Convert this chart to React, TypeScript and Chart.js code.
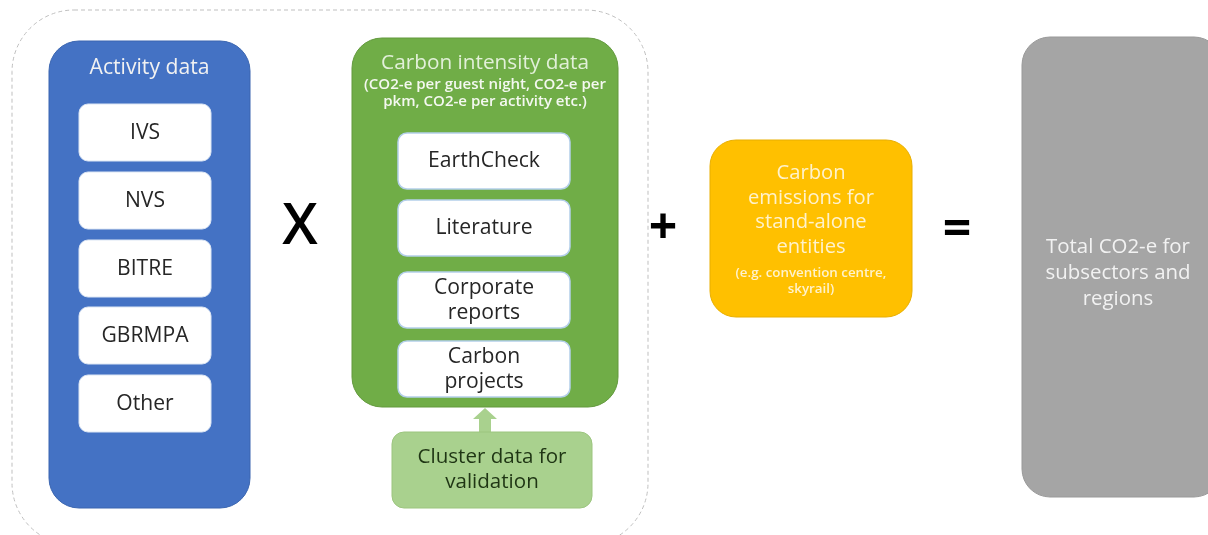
import React, { useEffect, useRef } from "react";
import { Chart, registerables } from "chart.js";
Chart.register(...registerables);

// ---- content ----
const activityTitle = "Activity data";
const activitySources = ["IVS", "NVS", "BITRE", "GBRMPA", "Other"];
const intensityTitle = "Carbon intensity data";
const intensityNote = ["(CO2-e per guest night, CO2-e per", "pkm, CO2-e per activity etc.)"];
const intensitySources = [["EarthCheck"], ["Literature"], ["Corporate", "reports"], ["Carbon", "projects"]];
const validationLabel = ["Cluster data for", "validation"];
const standaloneLabel = ["Carbon", "emissions for", "stand-alone", "entities"];
const standaloneNote = ["(e.g. convention centre,", "skyrail)"];
const totalLabel = ["Total CO2-e for", "subsectors and", "regions"];
const operators = ["X", "+", "="];

// ---- layout (diagram units) ----
const W = 1208;
const H = 535;
const outerBox = [12, 10, 648, 545];
const activityBox = [49, 41, 250, 508];
const activityItemX = [79, 211];
const activityItemTop = [104, 172, 240, 307, 375];
const activityItemH = 57;
const intensityBox = [352, 38, 618, 407];
const intensityItemX = [398, 570];
const intensityItemTop = [133, 200, 272, 341];
const intensityItemH = 56;
const clusterBox = [392, 432, 592, 508];
const arrowSpan = [485, 408, 432];
const standaloneBox = [710, 140, 912, 317];
const totalBox = [1022, 37, 1222, 497];
const operatorPos = [[300, 228], [663, 230], [957, 231]];

const FONT = "'Open Sans', Lato, sans-serif";

const diagramPlugin = {
  id: "diagram",
  beforeDatasetsDraw(chart: any) {
    const ctx: CanvasRenderingContext2D = chart.ctx;
    const sx = chart.scales.x;
    const sy = chart.scales.y;
    const X = (v: number) => sx.getPixelForValue(v);
    const Y = (v: number) => sy.getPixelForValue(v);

    const rrect = (b: number[], r: number, fill: string | null, stroke: string | null, lw = 1, dash: number[] = []) => {
      const x0 = X(b[0]), y0 = Y(b[1]), x1 = X(b[2]), y1 = Y(b[3]);
      ctx.save();
      ctx.beginPath();
      (ctx as any).roundRect(x0, y0, x1 - x0, y1 - y0, r);
      if (fill) { ctx.fillStyle = fill; ctx.fill(); }
      if (stroke) { ctx.setLineDash(dash); ctx.lineWidth = lw; ctx.strokeStyle = stroke; ctx.stroke(); }
      ctx.restore();
    };
    // font size fitted so that the sample string has the target width
    const fit = (sample: string, target: number, weight = "normal") => {
      ctx.save();
      ctx.font = `${weight} 20px ${FONT}`;
      const w = ctx.measureText(sample).width;
      ctx.restore();
      return (20 * target) / w;
    };
    const text = (lines: string[], cx: number, cy: number, size: number, color: string, weight = "normal", lh = size * 1.3) => {
      ctx.save();
      ctx.font = `${weight} ${size}px ${FONT}`;
      ctx.fillStyle = color;
      ctx.textAlign = "center";
      ctx.textBaseline = "middle";
      const start = cy - ((lines.length - 1) * lh) / 2;
      lines.forEach((l, i) => ctx.fillText(l, X(cx), Y(start + i * lh)));
      ctx.restore();
    };

    // outer dashed frame
    rrect(outerBox, 62, null, "#BFBFBF", 1, [4, 3]);

    // activity data
    rrect(activityBox, 30, "#4472C4", "#3A65B0", 1);
    text([activityTitle], (activityBox[0] + activityBox[2]) / 2, 68, fit(activityTitle, 120), "#F2F2F2");
    const itemSize = fit("GBRMPA", 87);
    activitySources.forEach((s, i) => {
      const b = [activityItemX[0], activityItemTop[i], activityItemX[1], activityItemTop[i] + activityItemH];
      rrect(b, 9, "#FFFFFF", "#DCE6F4", 1);
      text([s], (b[0] + b[2]) / 2, (b[1] + b[3]) / 2, itemSize, "#262626");
    });

    // intensity data
    rrect(intensityBox, 30, "#70AD47", "#62993D", 1);
    text([intensityTitle], (intensityBox[0] + intensityBox[2]) / 2, 63, fit(intensityTitle, 208), "#E2F0D9");
    text(intensityNote, (intensityBox[0] + intensityBox[2]) / 2, 93.5, fit(intensityNote[0], 242, "600"), "#F4F8F0", "600", 17);
    const iSize = fit("EarthCheck", 112);
    intensitySources.forEach((s, i) => {
      const b = [intensityItemX[0], intensityItemTop[i], intensityItemX[1], intensityItemTop[i] + intensityItemH];
      rrect(b, 9, "#FFFFFF", "#B4CFEA", 1.5);
      text(s, (b[0] + b[2]) / 2, (b[1] + b[3]) / 2, iSize, "#262626", "normal", 25);
    });

    // arrow
    {
      const cx = X(arrowSpan[0]), top = Y(arrowSpan[1]), bot = Y(arrowSpan[2]);
      ctx.save();
      ctx.fillStyle = "#A9D18E";
      ctx.beginPath();
      ctx.moveTo(cx, top);
      ctx.lineTo(cx + 12, top + 11);
      ctx.lineTo(cx + 6, top + 11);
      ctx.lineTo(cx + 6, bot);
      ctx.lineTo(cx - 6, bot);
      ctx.lineTo(cx - 6, top + 11);
      ctx.lineTo(cx - 12, top + 11);
      ctx.closePath();
      ctx.fill();
      ctx.restore();
    }

    // cluster
    rrect(clusterBox, 12, "#A9D18E", "#9CC57F", 1);
    text(validationLabel, (clusterBox[0] + clusterBox[2]) / 2, (clusterBox[1] + clusterBox[3]) / 2, fit(validationLabel[0], 149), "#1F3514", "normal", 25);

    // standalone
    rrect(standaloneBox, 26, "#FFC000", "#E8AE00", 1);
    text(standaloneLabel, (standaloneBox[0] + standaloneBox[2]) / 2, 210, fit(standaloneLabel[1], 126), "#FFF2CC", "normal", 24.5);
    text(standaloneNote, (standaloneBox[0] + standaloneBox[2]) / 2, 281, fit(standaloneNote[0], 151, "600"), "#FFF2CC", "600", 16);

    // total
    rrect(totalBox, 28, "#A5A5A5", "#999999", 1);
    text(totalLabel, 1118, 273, fit(totalLabel[0], 144), "#F2F2F2", "normal", 26);

    // operators
    text([operators[0]], operatorPos[0][0], operatorPos[0][1], 57, "#000000", "600");
    text([operators[1]], operatorPos[1][0], operatorPos[1][1], 50, "#000000", "bold");
    text([operators[2]], operatorPos[2][0], operatorPos[2][1], 50, "#000000", "bold");
  },
};

export default function App() {
  const ref = useRef<HTMLCanvasElement>(null);
  useEffect(() => {
    if (!ref.current) return;
    const chart = new Chart(ref.current, {
      type: "scatter",
      data: {
        datasets: [
          {
            data: [
              { x: 0, y: 0 },
              { x: W, y: H },
            ],
            pointRadius: 0,
            showLine: false,
          },
        ],
      },
      options: {
        animation: false,
        responsive: false,
        maintainAspectRatio: false,
        layout: { padding: 0 },
        events: [],
        plugins: { legend: { display: false }, tooltip: { enabled: false }, title: { display: false } },
        scales: {
          x: { type: "linear", min: 0, max: W, display: false },
          y: { type: "linear", min: 0, max: H, reverse: true, display: false },
        },
      },
      plugins: [diagramPlugin],
    });
    return () => chart.destroy();
  }, []);
  return (
    <div style={{ position: "fixed", left: 0, top: 0, width: W, height: H, background: "#FFFFFF" }}>
      <canvas ref={ref} width={W} height={H} style={{ width: W, height: H, display: "block" }} />
    </div>
  );
}
